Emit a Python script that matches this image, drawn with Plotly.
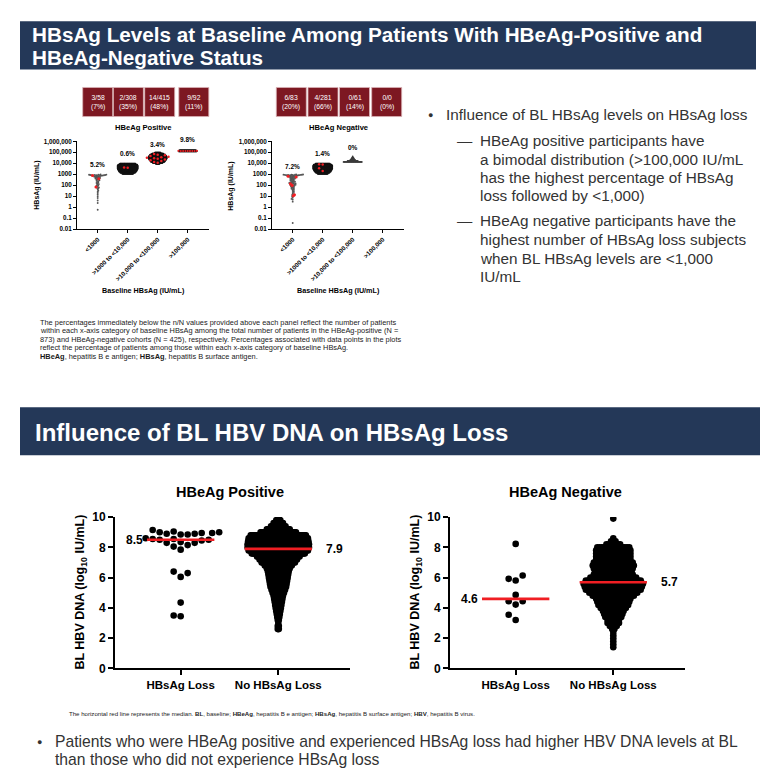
import plotly.graph_objects as go

W, H = 774, 784

# ======================= DATA =======================
# --- Top panels: baseline HBsAg categories ---
hbsag_categories = ["&lt;1000", "&gt;1000 to &lt;10,000", "&gt;10,000 to &lt;100,000", "&gt;100,000"]
hbsag_tickvals = [0.01, 0.1, 1, 10, 100, 1000, 1e4, 1e5, 1e6]
hbsag_ticktext = ["0.01", "0.1", "1", "10", "100", "1000", "10,000", "100,000", "1,000,000"]

pos_box_labels = ["3/58<br>(7%)", "2/308<br>(35%)", "14/415<br>(48%)", "9/92<br>(11%)"]
neg_box_labels = ["6/83<br>(20%)", "4/281<br>(66%)", "0/61<br>(14%)", "0/0<br>(0%)"]
pos_loss_pct = ["5.2%", "0.6%", "3.4%", "9.8%"]
neg_loss_pct = ["7.2%", "1.4%", "0%"]

# values are log10(IU/mL)
pos_g1_other = [2.97, 2.96, 2.95, 2.95, 2.94, 2.93, 2.93, 2.92, 2.91, 2.90, 2.90, 2.89, 2.88, 2.87,
                2.86, 2.85, 2.84, 2.82, 2.80, 2.78, 2.76, 2.74, 2.72, 2.70, 2.68, 2.65, 2.62, 2.60,
                2.55, 2.50, 2.45, 2.40, 2.36, 2.30, 2.25, 2.20, 2.15, 2.10, 2.05, 2.00, 1.95, 1.90,
                1.80, 1.75, 1.70, 1.60, 1.50, 1.40, 1.29, 1.15, 1.00, 0.83, 0.60, 0.38, -0.24]
pos_g1_loss = [2.88, 2.58, 1.84]

pos_g2_levels = [3.95, 3.85, 3.75, 3.65, 3.55, 3.45, 3.35, 3.25, 3.15, 3.05]
pos_g2_counts = [27, 33, 35, 35, 35, 34, 32, 30, 26, 19]
pos_g2_loss = [3.62, 3.58]

pos_g3_levels = [4.95, 4.85, 4.75, 4.65, 4.55, 4.45, 4.35, 4.25, 4.15, 4.05, 3.97]
pos_g3_counts = [16, 31, 42, 47, 50, 50, 47, 42, 38, 27, 11]
pos_g3_loss = [4.85, 4.78, 4.72, 4.66, 4.60, 4.55, 4.50, 4.45, 4.40, 4.35, 4.28, 4.20, 4.12, 4.05]

pos_g4_levels = [5.15, 5.10]
pos_g4_counts = [40, 43]
pos_g4_loss = [5.13, 5.12, 5.12, 5.11, 5.12, 5.13, 5.11, 5.12, 5.12]

neg_g1_other = [2.97, 2.97, 2.96, 2.96, 2.95, 2.95, 2.94, 2.94, 2.93, 2.93, 2.92, 2.92, 2.91, 2.90,
                2.90, 2.89, 2.88, 2.88, 2.86, 2.85, 2.84, 2.82, 2.80, 2.78, 2.76, 2.74, 2.72, 2.70,
                2.68, 2.66, 2.63, 2.60, 2.58, 2.56, 2.53, 2.50, 2.47, 2.44, 2.41, 2.38, 2.35, 2.32,
                2.30, 2.27, 2.25, 2.22, 2.20, 2.18, 2.15, 2.12, 2.10, 2.06, 2.03, 2.00, 1.97, 1.94,
                1.90, 1.87, 1.84, 1.80, 1.76, 1.72, 1.68, 1.63, 1.58, 1.52, 1.45, 1.38, 1.30, 1.22,
                1.10, 0.95, 0.85, 0.75, 0.68, 0.50, -1.45]
neg_g1_loss = [2.82, 2.74, 2.12, 1.98, 1.12, 1.04]

neg_g2_levels = [3.95, 3.85, 3.75, 3.65, 3.55, 3.45, 3.35, 3.25, 3.15, 3.05]
neg_g2_counts = [24, 30, 32, 32, 32, 31, 29, 27, 23, 17]
neg_g2_loss = [3.90, 3.88, 3.55, 3.30]

neg_g3_levels = [4.62, 4.52, 4.42, 4.32, 4.22, 4.12]
neg_g3_counts = [1, 3, 5, 8, 16, 28]

# --- Bottom panels: BL HBV DNA (log10 IU/mL) ---
dna_categories = ["HBsAg Loss", "No HBsAg Loss"]
pos_loss_dna = [9.15, 9.05, 9.00, 9.00, 8.95, 8.95, 8.90, 8.90, 8.85, 8.85, 8.60, 8.55, 8.55, 8.50,
                8.50, 8.45, 8.35, 8.30, 8.30, 8.15, 8.05, 7.85, 6.40, 6.30, 6.05, 4.35, 3.50, 3.45]
pos_noloss_levels = [10.0, 9.8, 9.6, 9.4, 9.2, 9.0, 8.8, 8.6, 8.4, 8.2, 8.0, 7.8, 7.6, 7.4, 7.2, 7.0,
                     6.8, 6.6, 6.4, 6.2, 6.0, 5.8, 5.6, 5.4, 5.2, 5.0, 4.8, 4.6, 4.4, 4.2, 4.0, 3.8,
                     3.6, 3.4, 3.2, 3.0, 2.8, 2.6]
pos_noloss_counts = [1, 5, 10, 15, 23, 35, 54, 58, 59, 60, 60, 58, 52, 42, 37, 33, 27, 23, 21, 20,
                     19, 18, 17, 16, 14, 12, 10, 9, 8, 7, 6, 5, 4, 3, 2, 1, 2, 2]
neg_loss_dna = [8.23, 6.14, 5.92, 5.81, 4.86, 4.44, 4.44, 4.22, 3.55, 3.20]
neg_noloss_levels = [9.9, 8.6, 8.4, 8.2, 8.0, 7.8, 7.6, 7.4, 7.2, 7.0, 6.8, 6.6, 6.4, 6.2, 6.0, 5.8,
                     5.6, 5.4, 5.2, 5.0, 4.8, 4.6, 4.4, 4.2, 4.0, 3.8, 3.6, 3.4, 3.2, 3.0, 2.8, 2.6,
                     2.4, 2.2, 2.0, 1.8, 1.6, 1.4]
neg_noloss_counts = [1, 1, 3, 7, 15, 16, 16, 16, 16, 18, 19, 18, 17, 18, 21, 25, 27, 26, 25, 22, 19,
                     16, 15, 14, 12, 10, 9, 8, 6, 6, 4, 2, 1, 1, 1, 1, 1, 1]
pos_medians = [8.5, 7.9]
neg_medians = [4.6, 5.7]
dna_ticks = [0, 2, 4, 6, 8, 10]

# ======================= LAYOUT HELPERS =======================
# target pixel positions (as measured on the reference) -> paper coords,
# with a small empirical vertical correction for the capture.
Y_OFF, Y_SCL = 7.7, 0.98
def PX(x): return x / W
def PY(y): return 1 - ((y - Y_OFF) / Y_SCL) / H

FONT = "Liberation Sans, Arial, Helvetica, sans-serif"
RED = "#f01e23"
NAVY = "#243858"
MAROON = "#7d1822"

# top panels geometry (px)
TOP_Y_BOT, TOP_Y_TOP = 229.3, 141.7
TOP_PPU_Y = (TOP_Y_BOT - TOP_Y_TOP) / 8.0
TOP_PPU_X = 30.0
TOP_RANGE = [-0.68, 3.71]
TL_X0 = 77.3
TR_X0 = 272.3
TOP_W = (TOP_RANGE[1] - TOP_RANGE[0]) * TOP_PPU_X

# bottom panels geometry (px)
BOT_Y_BOT, BOT_Y_TOP = 667.7, 516.7
BOT_PPU_Y = (BOT_Y_BOT - BOT_Y_TOP) / 10.0
BOT_PPU_X = 97.6
BOT_RANGE = [-0.673, 1.735]
BL_X0 = 115.0
BR_X0 = 450.0
BOT_W = (BOT_RANGE[1] - BOT_RANGE[0]) * BOT_PPU_X


def swarm(values, d, ppu_y, ppu_x):
    """Simple deterministic beeswarm: returns x offsets (data units)."""
    order = sorted(range(len(values)), key=lambda i: values[i])
    placed = []
    out = [0.0] * len(values)
    step = d / 2.0
    for k, i in enumerate(order):
        y = values[i] * ppu_y
        sign = 1 if k % 2 == 0 else -1
        cands = [0.0]
        for j in range(1, 400):
            cands += [sign * j * step, -sign * j * step]
        near = [(a, b) for a, b in placed if abs(b - y) < d]
        chosen = 0.0
        for c in cands:
            if all((c - a) ** 2 + (y - b) ** 2 >= d * d - 1e-9 for a, b in near):
                chosen = c
                break
        placed.append((chosen, y))
        out[i] = chosen / ppu_x
    return out


def rows(levels, counts, width_px, d, ppu_x):
    s = (width_px - d) / max(max(counts) - 1, 1)
    xs, ys = [], []
    for lv, n in zip(levels, counts):
        for i in range(n):
            xs.append((i - (n - 1) / 2.0) * s / ppu_x)
            ys.append(lv)
    return xs, ys


fig = go.Figure()

def add_pts(xs, ys, xa, ya, color, size, log=False):
    fig.add_trace(go.Scatter(
        x=xs, y=[10 ** v for v in ys] if log else ys, xaxis=xa, yaxis=ya, mode="markers",
        marker=dict(color=color, size=size, line=dict(width=0)), hoverinfo="skip"))

# ---------- top panels ----------
TOP_D = 2.3
GRAY = "#555555"
for xa, ya, g1o, g1l, clouds, reds in [
    ("x", "y", pos_g1_other, pos_g1_loss,
     [(1, pos_g2_levels, pos_g2_counts, 22, TOP_D, "#111111"),
      (2, pos_g3_levels, pos_g3_counts, 20, TOP_D, "#111111"),
      (3, pos_g4_levels, pos_g4_counts, 20, TOP_D, "#111111")],
     [(1, pos_g2_loss), (2, pos_g3_loss), (3, pos_g4_loss)]),
    ("x2", "y2", neg_g1_other, neg_g1_loss,
     [(1, neg_g2_levels, neg_g2_counts, 21, TOP_D, "#111111"),
      (2, neg_g3_levels, neg_g3_counts, 20, 1.7, "#3a3a3a")],
     [(1, neg_g2_loss)]),
]:
    allv = g1o + g1l
    offs = swarm(allv, 1.15, TOP_PPU_Y, TOP_PPU_X)
    add_pts(offs[:len(g1o)], g1o, xa, ya, GRAY, 1.9, log=True)
    for cat, lv, ct, wpx, dd, col in clouds:
        xs, ys = rows(lv, ct, wpx, dd, TOP_PPU_X)
        add_pts([cat + x for x in xs], ys, xa, ya, col, dd, log=True)
    add_pts(offs[len(g1o):], g1l, xa, ya, RED, 3.1, log=True)
    for cat, rv in reds:
        ro = swarm(rv, 2.3 if cat == 3 else 3.6, TOP_PPU_Y, TOP_PPU_X)
        add_pts([cat + x for x in ro], rv, xa, ya, RED, 2.1 if cat == 3 else 2.5, log=True)

# ---------- bottom panels ----------
BOT_D = 6.6
for xa, ya, lossv, nl_lv, nl_ct, nl_w, meds in [
    ("x3", "y3", pos_loss_dna, pos_noloss_levels, pos_noloss_counts, 68, pos_medians),
    ("x4", "y4", neg_loss_dna, neg_noloss_levels, neg_noloss_counts, 66, neg_medians),
]:
    offs = swarm(lossv, 7.0, BOT_PPU_Y, BOT_PPU_X)
    add_pts(offs, lossv, xa, ya, "black", BOT_D)
    xs, ys = rows(nl_lv, nl_ct, nl_w, BOT_D, BOT_PPU_X)
    add_pts([1 + x for x in xs], ys, xa, ya, "black", BOT_D)
    for cat, m in enumerate(meds):
        fig.add_trace(go.Scatter(x=[cat - 0.345, cat + 0.345], y=[m, m], xaxis=xa, yaxis=ya,
                                 mode="lines", line=dict(color=RED, width=2.6), hoverinfo="skip"))

# ---------- axes ----------
def top_x(x0):
    return dict(domain=[PX(x0), PX(x0 + TOP_W)], range=TOP_RANGE, tickvals=[0, 1, 2, 3],
                ticktext=hbsag_categories, tickangle=-45, showline=True, linecolor="black",
                linewidth=1.4, ticks="outside", ticklen=3, tickwidth=1.4, tickcolor="black",
                showgrid=False, zeroline=False,
                tickfont=dict(family=FONT, size=6.3, color="black", weight="bold"))

def top_y():
    return dict(domain=[PY(TOP_Y_BOT), PY(TOP_Y_TOP)], type="log", range=[-2, 6],
                tickvals=hbsag_tickvals, ticktext=hbsag_ticktext, showline=True, linecolor="black",
                linewidth=1.4, ticks="outside", ticklen=3, tickwidth=1.4, tickcolor="black",
                showgrid=False, zeroline=False,
                tickfont=dict(family=FONT, size=6.3, color="black", weight="bold"))

def bot_x(x0):
    return dict(domain=[PX(x0), PX(x0 + BOT_W)], range=BOT_RANGE, tickvals=[0, 1],
                ticktext=dna_categories, showline=True, linecolor="black", linewidth=2,
                ticks="outside", ticklen=5, tickwidth=2, tickcolor="black", showgrid=False,
                zeroline=False, tickfont=dict(family=FONT, size=11.5, color="black", weight="bold"))

def bot_y():
    return dict(domain=[PY(BOT_Y_BOT), PY(BOT_Y_TOP)], range=[0, 10], tickvals=dna_ticks,
                showline=True, linecolor="black", linewidth=2, ticks="outside", ticklen=5,
                tickwidth=2, tickcolor="black", showgrid=False, zeroline=False,
                tickfont=dict(family=FONT, size=12, color="black", weight="bold"))

ann = []
shapes = []

def text(x, y, s, size, color="black", bold=False, xanchor="left", family=FONT, angle=0,
         xref="paper"):
    ann.append(dict(x=x if xref != "paper" else PX(x), y=PY(y), xref=xref, yref="paper",
                    text=s, showarrow=False, xanchor=xanchor, yanchor="middle", textangle=angle,
                    font=dict(family=family, size=size, color=color,
                              weight="bold" if bold else "normal")))

# header bars
shapes.append(dict(type="rect", xref="paper", yref="paper", x0=PX(20), x1=PX(756), y0=PY(70),
                   y1=PY(22), fillcolor=NAVY, line=dict(width=0), layer="below"))
shapes.append(dict(type="rect", xref="paper", yref="paper", x0=PX(20), x1=PX(760), y0=PY(455),
                   y1=PY(407), fillcolor=NAVY, line=dict(width=0), layer="below"))
text(30, 35, "HBsAg Levels at Baseline Among Patients With HBeAg-Positive and", 20.7, "white", True)
text(30, 58, "HBeAg-Negative Status", 20.7, "white", True)
text(33, 432, "Influence of BL HBV DNA on HBsAg Loss", 24, "white", True)

# n/N boxes above top panels
for centers, labels in [([97.7, 128.4, 159.7, 193.8], pos_box_labels),
                        ([291.3, 323.0, 354.5, 386.7], neg_box_labels)]:
    for c, lab in zip(centers, labels):
        shapes.append(dict(type="rect", xref="paper", yref="paper", x0=PX(c - 15), x1=PX(c + 15),
                           y0=PY(117), y1=PY(88), fillcolor=MAROON,
                           line=dict(color="#d9b3b6", width=0.8)))
        text(c, 102.5, lab, 6.8, "white", xanchor="center")

# top panel titles & labels
text(143, 128, "HBeAg Positive", 7.6, bold=True, xanchor="center")
text(338, 128, "HBeAg Negative", 7.6, bold=True, xanchor="center")
text(143, 291, "Baseline HBsAg (IU/mL)", 7.2, bold=True, xanchor="center")
text(338, 291, "Baseline HBsAg (IU/mL)", 7.2, bold=True, xanchor="center")
text(37, 186, "HBsAg (IU/mL)", 7, bold=True, xanchor="center", angle=-90)
text(231, 186, "HBsAg (IU/mL)", 7, bold=True, xanchor="center", angle=-90)
for i, (s, yy) in enumerate(zip(pos_loss_pct, [165, 154.3, 145, 140])):
    text(i, yy, s, 6.5, bold=True, xanchor="center", xref="x")
for i, (s, yy) in enumerate(zip(neg_loss_pct, [167.3, 154.3, 147.7])):
    text(i, yy, s, 6.5, bold=True, xanchor="center", xref="x2")

# top footnote
foot = ["The percentages immediately below the n/N values provided above each panel reflect the number of patients",
        "within each x-axis category of baseline HBsAg among the total number of patients in the HBeAg-positive (N =",
        "873) and HBeAg-negative cohorts (N = 425), respectively. Percentages associated with data points in the plots",
        "reflect the percentage of patients among those within each x-axis category of baseline HBsAg.",
        "<b>HBeAg</b>, hepatitis B e antigen; <b>HBsAg</b>, hepatitis B surface antigen."]
for i, s in enumerate(foot):
    text(38, 322.5 + 8.4 * i, s, 7.4, "#1a1a1a")

# right bullets
TXT = "#333333"
BS = 15.3
text(426, 115, "●", 9, TXT)
text(444, 115, "Influence of BL HBsAg levels on HBsAg loss", BS, TXT)
text(455, 141, "—", BS, TXT)
for i, s in enumerate(["HBeAg positive participants have", "a bimodal distribution (&gt;100,000 IU/mL",
                       "has the highest percentage of HBsAg", "loss followed by &lt;1,000)"]):
    text(478, 141 + 18.4 * i, s, BS, TXT)
text(455, 221, "—", BS, TXT)
for i, s in enumerate(["HBeAg negative participants have the", "highest number of HBsAg loss subjects",
                       "when BL HBsAg levels are &lt;1,000", "IU/mL"]):
    text(478, 221 + 18.7 * i, s, BS, TXT)

# bottom panel titles
text(230, 492, "HBeAg Positive", 14.5, bold=True, xanchor="center")
text(565, 492, "HBeAg Negative", 14.5, bold=True, xanchor="center")
text(81, 592, "BL HBV DNA (log<sub>10</sub> IU/mL)", 12.5, bold=True, xanchor="center", angle=-90)
text(416, 592, "BL HBV DNA (log<sub>10</sub> IU/mL)", 12.5, bold=True, xanchor="center", angle=-90)

# median labels
for xa, ya, meds in [("x3", "y3", pos_medians), ("x4", "y4", neg_medians)]:
    ann.append(dict(x=-0.37, y=meds[0], xref=xa, yref=ya, text=f"{meds[0]:.1f}", showarrow=False,
                    xanchor="right", yanchor="middle",
                    font=dict(family=FONT, size=12, color="black", weight="bold")))
    ann.append(dict(x=1.47, y=meds[1], xref=xa, yref=ya, text=f"{meds[1]:.1f}", showarrow=False,
                    xanchor="left", yanchor="middle",
                    font=dict(family=FONT, size=12, color="black", weight="bold")))

# bottom footnote + bullet
text(67, 713, "The horizontal red line represents the median. <b>BL</b>, baseline; <b>HBeAg</b>, hepatitis B e antigen; "
     "<b>HBsAg</b>, hepatitis B surface antigen; <b>HBV</b>, hepatitis B virus.", 6.1, "#1a1a1a")
text(35, 741, "●", 9, TXT)
text(53, 741, "Patients who were HBeAg positive and experienced HBsAg loss had higher HBV DNA levels at BL",
     15.7, TXT)
text(53, 759, "than those who did not experience HBsAg loss", 15.7, TXT)

fig.update_layout(
    width=W, height=H, margin=dict(l=0, r=0, t=0, b=0), showlegend=False,
    paper_bgcolor="white", plot_bgcolor="rgba(0,0,0,0)",
    xaxis=dict(top_x(TL_X0), anchor="y"), yaxis=dict(top_y(), anchor="x"),
    xaxis2=dict(top_x(TR_X0), anchor="y2"), yaxis2=dict(top_y(), anchor="x2"),
    xaxis3=dict(bot_x(BL_X0), anchor="y3"), yaxis3=dict(bot_y(), anchor="x3"),
    xaxis4=dict(bot_x(BR_X0), anchor="y4"), yaxis4=dict(bot_y(), anchor="x4"),
    annotations=ann, shapes=shapes,
)
fig.write_html("out.html", config={"displayModeBar": False},
               post_script="document.body.style.margin='0';document.body.style.padding='0';"
                           "document.body.style.overflow='hidden';")
